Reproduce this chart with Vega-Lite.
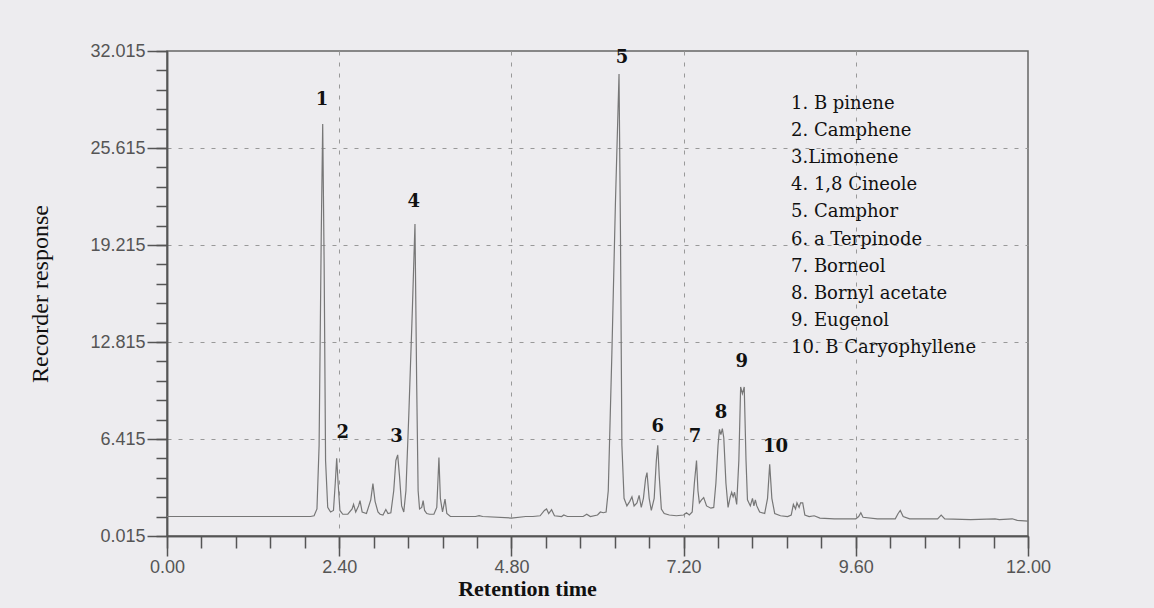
{
  "$schema": "https://vega.github.io/schema/vega-lite/v6.json",
  "width": 861,
  "height": 485,
  "autosize": {"type": "none"},
  "padding": {"left": 167, "top": 51, "right": 126, "bottom": 72},
  "background": "#edecef",
  "config": {
    "view": {"stroke": "#666666", "strokeWidth": 1.5},
    "axis": {
      "domainColor": "#555555",
      "domainWidth": 1.5,
      "tickColor": "#555555",
      "tickWidth": 1.5,
      "labelColor": "#555555",
      "labelFont": "Liberation Sans",
      "labelFontSize": 18,
      "labelOverlap": false,
      "labelBound": false,
      "labelFlush": false,
      "gridColor": "#999999",
      "gridDash": [4, 7],
      "gridWidth": 1
    }
  },
  "resolve": {"axis": {"x": "independent", "y": "independent"}},
  "datasets": {
    "trace": [
      {"t": 0, "v": 1.3}, {"t": 1.0, "v": 1.3}, {"t": 2.0, "v": 1.3}, {"t": 2.05, "v": 1.35},
      {"t": 2.09, "v": 1.8}, {"t": 2.12, "v": 6}, {"t": 2.15, "v": 20}, {"t": 2.17, "v": 27.2},
      {"t": 2.19, "v": 18}, {"t": 2.21, "v": 5}, {"t": 2.24, "v": 1.9}, {"t": 2.28, "v": 1.6},
      {"t": 2.32, "v": 1.7}, {"t": 2.345, "v": 3.5}, {"t": 2.365, "v": 5.15}, {"t": 2.385, "v": 3.5},
      {"t": 2.41, "v": 1.7}, {"t": 2.45, "v": 1.45}, {"t": 2.52, "v": 1.45}, {"t": 2.58, "v": 1.8},
      {"t": 2.6, "v": 2.1}, {"t": 2.63, "v": 1.6}, {"t": 2.67, "v": 2.0}, {"t": 2.69, "v": 2.35},
      {"t": 2.72, "v": 1.6}, {"t": 2.78, "v": 1.5}, {"t": 2.84, "v": 2.4}, {"t": 2.87, "v": 3.47},
      {"t": 2.9, "v": 2.3}, {"t": 2.94, "v": 1.6}, {"t": 2.97, "v": 1.45}, {"t": 3.01, "v": 1.4},
      {"t": 3.05, "v": 1.76}, {"t": 3.08, "v": 1.5}, {"t": 3.12, "v": 1.55}, {"t": 3.16, "v": 3.0},
      {"t": 3.19, "v": 5.0}, {"t": 3.215, "v": 5.37}, {"t": 3.24, "v": 4.0}, {"t": 3.27, "v": 2.0},
      {"t": 3.3, "v": 1.6}, {"t": 3.33, "v": 3.0}, {"t": 3.37, "v": 8.0}, {"t": 3.42, "v": 15.0},
      {"t": 3.456, "v": 20.6}, {"t": 3.48, "v": 10.0}, {"t": 3.5, "v": 3.0}, {"t": 3.52, "v": 1.8},
      {"t": 3.55, "v": 1.9}, {"t": 3.57, "v": 2.35}, {"t": 3.59, "v": 1.7}, {"t": 3.62, "v": 1.5},
      {"t": 3.66, "v": 1.45}, {"t": 3.72, "v": 1.45}, {"t": 3.76, "v": 1.9}, {"t": 3.79, "v": 5.2},
      {"t": 3.81, "v": 2.5}, {"t": 3.84, "v": 1.6}, {"t": 3.875, "v": 2.45}, {"t": 3.9, "v": 1.5},
      {"t": 3.95, "v": 1.3}, {"t": 4.3, "v": 1.3}, {"t": 4.35, "v": 1.36}, {"t": 4.4, "v": 1.3},
      {"t": 4.8, "v": 1.2}, {"t": 5.0, "v": 1.3}, {"t": 5.1, "v": 1.3}, {"t": 5.2, "v": 1.35},
      {"t": 5.26, "v": 1.7}, {"t": 5.29, "v": 1.8}, {"t": 5.32, "v": 1.5}, {"t": 5.36, "v": 1.75},
      {"t": 5.4, "v": 1.35}, {"t": 5.5, "v": 1.3}, {"t": 5.53, "v": 1.4}, {"t": 5.58, "v": 1.3},
      {"t": 5.8, "v": 1.3}, {"t": 5.85, "v": 1.45}, {"t": 5.9, "v": 1.3}, {"t": 6.0, "v": 1.4},
      {"t": 6.04, "v": 1.6}, {"t": 6.08, "v": 1.55}, {"t": 6.12, "v": 1.6}, {"t": 6.15, "v": 3.0},
      {"t": 6.2, "v": 12.0}, {"t": 6.25, "v": 22.0}, {"t": 6.3, "v": 30.5}, {"t": 6.32, "v": 20.0},
      {"t": 6.34, "v": 6.0}, {"t": 6.37, "v": 2.5}, {"t": 6.41, "v": 2.0}, {"t": 6.45, "v": 2.3},
      {"t": 6.48, "v": 2.6}, {"t": 6.51, "v": 2.0}, {"t": 6.55, "v": 2.2}, {"t": 6.58, "v": 2.7},
      {"t": 6.61, "v": 1.9}, {"t": 6.64, "v": 2.5}, {"t": 6.67, "v": 3.8}, {"t": 6.69, "v": 4.2},
      {"t": 6.72, "v": 2.5}, {"t": 6.75, "v": 1.7}, {"t": 6.79, "v": 2.5}, {"t": 6.82, "v": 5.0},
      {"t": 6.84, "v": 6.0}, {"t": 6.86, "v": 4.0}, {"t": 6.89, "v": 1.8}, {"t": 6.93, "v": 1.5},
      {"t": 7.0, "v": 1.4}, {"t": 7.1, "v": 1.35}, {"t": 7.2, "v": 1.4}, {"t": 7.24, "v": 1.55},
      {"t": 7.28, "v": 1.4}, {"t": 7.32, "v": 1.6}, {"t": 7.35, "v": 3.5}, {"t": 7.38, "v": 5.0},
      {"t": 7.4, "v": 3.0}, {"t": 7.42, "v": 2.2}, {"t": 7.45, "v": 2.4}, {"t": 7.48, "v": 2.55},
      {"t": 7.52, "v": 2.0}, {"t": 7.58, "v": 1.85}, {"t": 7.62, "v": 1.9}, {"t": 7.65, "v": 3.5},
      {"t": 7.68, "v": 6.0}, {"t": 7.7, "v": 7.05}, {"t": 7.72, "v": 6.7}, {"t": 7.74, "v": 7.1},
      {"t": 7.76, "v": 6.5}, {"t": 7.79, "v": 3.5}, {"t": 7.82, "v": 1.9}, {"t": 7.85, "v": 2.6},
      {"t": 7.87, "v": 2.9}, {"t": 7.89, "v": 2.6}, {"t": 7.91, "v": 2.9}, {"t": 7.94, "v": 2.1},
      {"t": 7.97, "v": 5.0}, {"t": 7.995, "v": 9.85}, {"t": 8.02, "v": 9.4}, {"t": 8.045, "v": 9.85},
      {"t": 8.07, "v": 5.0}, {"t": 8.09, "v": 2.4}, {"t": 8.13, "v": 2.0}, {"t": 8.16, "v": 2.5},
      {"t": 8.18, "v": 2.0}, {"t": 8.2, "v": 2.4}, {"t": 8.22, "v": 2.0}, {"t": 8.26, "v": 1.6},
      {"t": 8.33, "v": 1.5}, {"t": 8.37, "v": 2.5}, {"t": 8.4, "v": 4.75}, {"t": 8.43, "v": 2.5},
      {"t": 8.47, "v": 1.5}, {"t": 8.55, "v": 1.35}, {"t": 8.65, "v": 1.3}, {"t": 8.7, "v": 1.4},
      {"t": 8.73, "v": 2.1}, {"t": 8.76, "v": 1.8}, {"t": 8.78, "v": 2.2}, {"t": 8.81, "v": 1.9},
      {"t": 8.83, "v": 2.2}, {"t": 8.86, "v": 2.2}, {"t": 8.89, "v": 1.4}, {"t": 8.95, "v": 1.3},
      {"t": 9.02, "v": 1.35}, {"t": 9.1, "v": 1.2}, {"t": 9.3, "v": 1.15}, {"t": 9.6, "v": 1.15},
      {"t": 9.64, "v": 1.3}, {"t": 9.67, "v": 1.55}, {"t": 9.7, "v": 1.25}, {"t": 9.9, "v": 1.15},
      {"t": 10.15, "v": 1.15}, {"t": 10.19, "v": 1.5}, {"t": 10.22, "v": 1.7}, {"t": 10.26, "v": 1.3},
      {"t": 10.35, "v": 1.15}, {"t": 10.74, "v": 1.15}, {"t": 10.79, "v": 1.4}, {"t": 10.84, "v": 1.15},
      {"t": 11.2, "v": 1.1}, {"t": 11.54, "v": 1.15}, {"t": 11.6, "v": 1.1}, {"t": 11.78, "v": 1.15},
      {"t": 11.85, "v": 1.05}, {"t": 12.0, "v": 1.0}
    ],
    "labels": [
      {"t": 2.16, "v": 28.8, "num": "1", "name": "1. B pinene"},
      {"t": 2.45, "v": 6.8, "num": "2", "name": "2. Camphene"},
      {"t": 3.2, "v": 6.55, "num": "3", "name": "3.Limonene"},
      {"t": 3.44, "v": 22.05, "num": "4", "name": "4. 1,8 Cineole"},
      {"t": 6.34, "v": 31.55, "num": "5", "name": "5. Camphor"},
      {"t": 6.84, "v": 7.2, "num": "6", "name": "6. a Terpinode"},
      {"t": 7.36, "v": 6.55, "num": "7", "name": "7. Borneol"},
      {"t": 7.72, "v": 8.13, "num": "8", "name": "8. Bornyl acetate"},
      {"t": 8.01, "v": 11.49, "num": "9", "name": "9. Eugenol"},
      {"t": 8.48, "v": 5.89, "num": "10", "name": "10. B Caryophyllene"}
    ]
  },
  "layer": [
    {
      "data": {"name": "trace"},
      "mark": {"type": "line", "color": "#777777", "strokeWidth": 1.2, "clip": true},
      "encoding": {
        "x": {
          "field": "t", "type": "quantitative",
          "scale": {"domain": [0, 12], "nice": false, "zero": false},
          "axis": {
            "orient": "bottom",
            "title": null,
            "values": [0, 0.48, 0.96, 1.44, 1.92, 2.4, 2.88, 3.36, 3.84, 4.32, 4.8, 5.28, 5.76, 6.24, 6.72, 7.2, 7.68, 8.16, 8.64, 9.12, 9.6, 10.08, 10.56, 11.04, 11.52, 12],
            "labels": false,
            "grid": false,
            "tickSize": 12
          }
        },
        "y": {
          "field": "v", "type": "quantitative",
          "scale": {"domain": [0.015, 32.015], "nice": false, "zero": false},
          "axis": {
            "orient": "left",
            "title": null,
            "values": [0.015, 1.295, 2.575, 3.855, 5.135, 6.415, 7.695, 8.975, 10.255, 11.535, 12.815, 14.095, 15.375, 16.655, 17.935, 19.215, 20.495, 21.775, 23.055, 24.335, 25.615, 26.895, 28.175, 29.455, 30.735, 32.015],
            "labels": false,
            "grid": false,
            "tickSize": 11
          }
        }
      }
    },
    {
      "data": {"name": "labels"},
      "mark": {"type": "text", "font": "DejaVu Serif", "fontSize": 18, "fontWeight": "bold", "baseline": "middle", "align": "center"},
      "encoding": {
        "x": {
          "field": "t", "type": "quantitative",
          "axis": {
            "orient": "bottom",
            "title": "Retention time",
            "titleFont": "Liberation Serif",
            "titleFontSize": 22,
            "titleFontWeight": "bold",
            "titleColor": "#111111",
            "titleX": 360,
            "titleY": 42,
            "titleBaseline": "top",
            "values": [0, 2.4, 4.8, 7.2, 9.6, 12],
            "format": ".2f",
            "labelPadding": 2,
            "grid": true,
            "gridOpacity": {"condition": {"test": "datum.value > 0.1 && datum.value < 11.9", "value": 1}, "value": 0},
            "tickSize": 20
          }
        },
        "y": {
          "field": "v", "type": "quantitative",
          "axis": {
            "orient": "left",
            "title": "Recorder response",
            "titleFont": "Liberation Serif",
            "titleFontSize": 24,
            "titleFontWeight": "normal",
            "titleColor": "#111111",
            "titleX": -127,
            "titleBaseline": "middle",
            "values": [0.015, 6.415, 12.815, 19.215, 25.615, 32.015],
            "format": ".3f",
            "labelPadding": 2,
            "grid": true,
            "gridOpacity": {"condition": {"test": "datum.value > 1 && datum.value < 31", "value": 1}, "value": 0},
            "tickSize": 20
          }
        },
        "text": {"field": "num"},
        "color": {
          "field": "name", "type": "nominal",
          "scale": {
            "domain": ["1. B pinene", "2. Camphene", "3.Limonene", "4. 1,8 Cineole", "5. Camphor", "6. a Terpinode", "7. Borneol", "8. Bornyl acetate", "9. Eugenol", "10. B Caryophyllene"],
            "range": ["#111111", "#111111", "#111111", "#111111", "#111111", "#111111", "#111111", "#111111", "#111111", "#111111"]
          },
          "legend": {
            "title": null,
            "orient": "none",
            "legendX": 606,
            "legendY": 44,
            "symbolSize": 0,
            "symbolOpacity": 0,
            "symbolStrokeWidth": 0,
            "labelOffset": 0,
            "labelFont": "DejaVu Serif",
            "labelFontSize": 18,
            "labelColor": "#111111",
            "labelLimit": 400,
            "rowPadding": 9.1
          }
        }
      }
    }
  ]
}
